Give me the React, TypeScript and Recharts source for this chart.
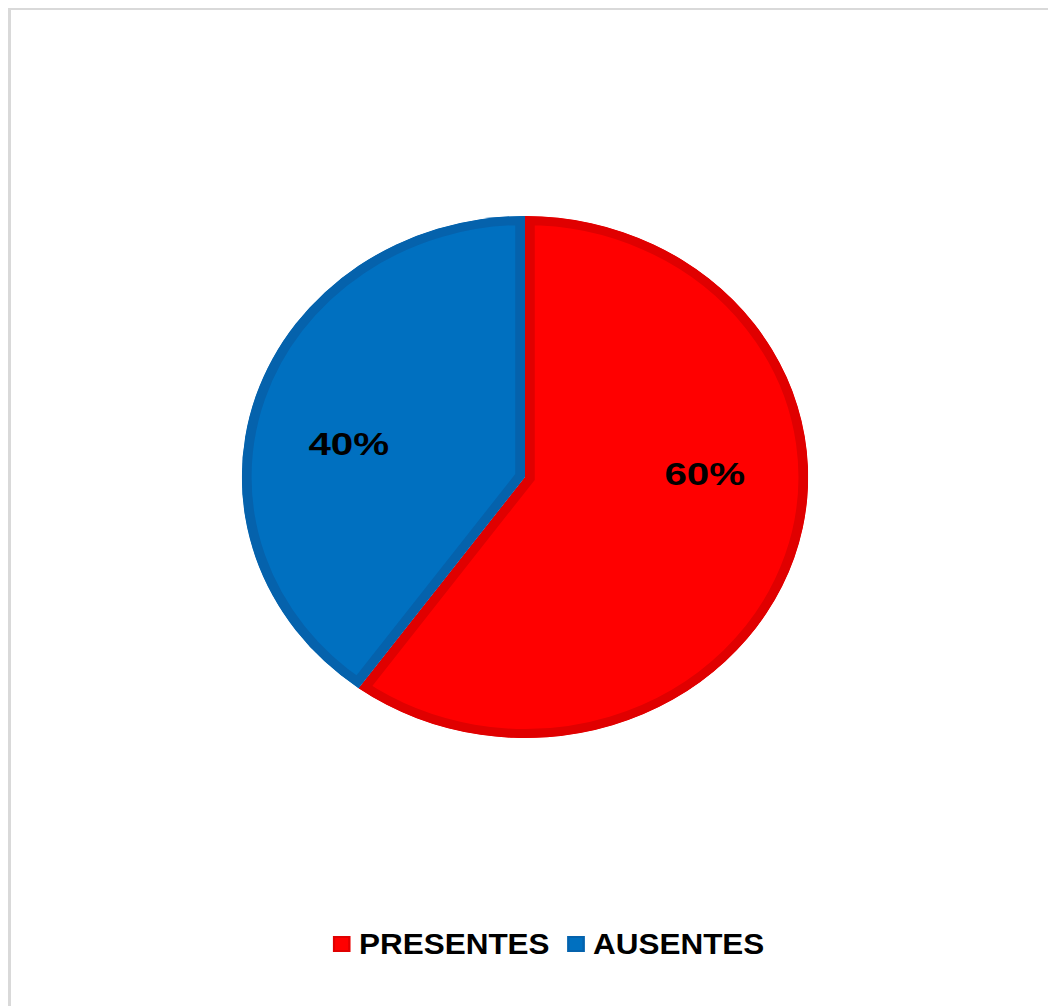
import React from "react";
import { PieChart, Pie, Cell, Sector } from "recharts";

const categories = ["PRESENTES", "AUSENTES"];
const shares = [60, 40];
const fills = ["#ff0000", "#0070c0"];
const strokes = ["#e00000", "#0562ac"];

const data = categories.map((name, i) => ({ name, value: shares[i] }));

const FONT = '"Liberation Sans", Arial, sans-serif';
const STRETCH = 1.085;
const RADIAN = Math.PI / 180;
// Excel nudges its "best fit" labels a little upward
const LABEL_SHIFT = [19, 6.5];

const SliceShape = (props: any) => {
  const id = `slice-clip-${Math.round(props.startAngle)}`;
  return (
    <g>
      <defs>
        <clipPath id={id}>
          <Sector {...props} stroke="none" />
        </clipPath>
      </defs>
      <Sector {...props} strokeWidth={18} clipPath={`url(#${id})`} />
    </g>
  );
};

const renderLabel = (props: any) => {
  const { cx, cy, midAngle, outerRadius, index, value } = props;
  const angle = (midAngle + LABEL_SHIFT[index]) * RADIAN;
  const r = outerRadius * 0.635;
  const x = cx + r * Math.cos(angle);
  const y = cy - r * Math.sin(angle);
  return (
    <text
      x={x}
      y={y}
      textAnchor="middle"
      dominantBaseline="central"
      fontFamily={FONT}
      fontWeight="bold"
      fontSize={31}
      fill="#000"
      transform={`translate(${x} ${y}) scale(1.2 1) translate(${-x} ${-y})`}
    >
      {`${value}%`}
    </text>
  );
};

export default function App() {
  return (
    <div style={{ position: "relative", width: 1048, height: 998, fontFamily: FONT }}>
      <style>{"body{overflow:hidden}"}</style>
      <div
        style={{
          position: "absolute",
          left: 0,
          top: -1,
          width: 1048,
          height: 999,
          borderTop: "3px solid #d9d9d9",
          borderLeft: "3px solid #d9d9d9",
          boxSizing: "border-box",
        }}
      />
      <div
        style={{
          position: "absolute",
          left: 0,
          top: 0,
          width: 1048,
          height: 998,
          transform: `scaleX(${STRETCH})`,
          transformOrigin: "517px 0",
        }}
      >
        <PieChart width={1048} height={998} margin={{ top: 0, right: 0, bottom: 0, left: 0 }}>
          <Pie
            data={data}
            dataKey="value"
            nameKey="name"
            cx={517}
            cy={469}
            outerRadius={261}
            startAngle={90}
            endAngle={-270}
            label={renderLabel}
            labelLine={false}
            shape={SliceShape}
            isAnimationActive={false}
          >
            {data.map((d, i) => (
              <Cell key={d.name} fill={fills[i]} stroke={strokes[i]} strokeWidth={9} />
            ))}
          </Pie>
        </PieChart>
        <div
          style={{
            position: "absolute",
            left: 340,
            top: 919,
            height: 34,
            display: "flex",
            alignItems: "center",
            fontSize: 29,
            fontWeight: "bold",
            color: "#000",
            whiteSpace: "nowrap",
          }}
        >
          {categories.map((c, i) => (
            <div key={c} style={{ display: "flex", alignItems: "center", marginRight: i === 0 ? 16 : 0 }}>
              <span
                style={{
                  display: "inline-block",
                  width: 16,
                  height: 16,
                  background: fills[i],
                  border: `2px solid ${strokes[i]}`,
                  boxSizing: "border-box",
                  marginRight: 8,
                }}
              />
              <span>{c}</span>
            </div>
          ))}
        </div>
      </div>
    </div>
  );
}
